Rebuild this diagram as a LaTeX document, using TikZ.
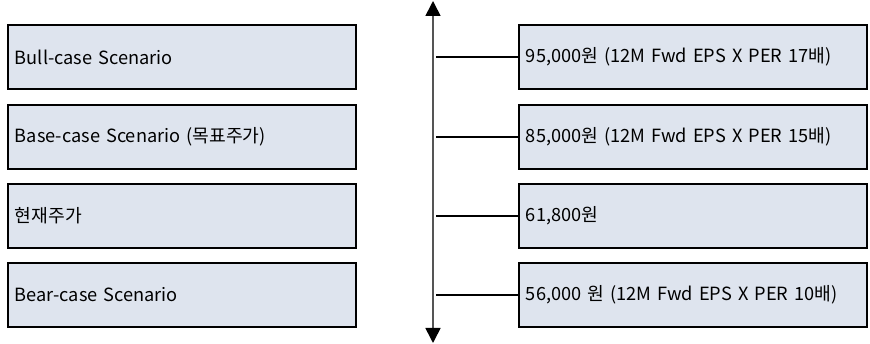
\documentclass[tikz,border=0pt]{standalone}
\usepackage{fontspec}
\setmainfont{Noto Sans CJK KR}
\usetikzlibrary{arrows.meta}
\definecolor{boxfill}{HTML}{DEE4EE}
\definecolor{axisgray}{HTML}{555555}
\tikzset{
  valbox/.style={draw=black, line width=1.8pt, fill=boxfill, minimum height=64pt,
    text width=334pt, inner xsep=7pt, align=left, anchor=north west, font=\fontsize{18.2}{20}\selectfont},
  tick/.style={draw=black, line width=1.8pt},
  axisline/.style={draw=axisgray, line width=1.6pt, {Triangle[width=15pt,length=15pt,color=black]}-{Triangle[width=15pt,length=15pt,color=black]}}
}
\begin{document}
\begin{tikzpicture}[x=1pt,y=-1pt]
\useasboundingbox (0,0) rectangle (870,344);
\node[valbox] (l1) at (7,24) {Bull-case Scenario};
\node[valbox] (l2) at (7,104) {Base-case Scenario (목표주가)};
\node[valbox] (l3) at (7,183) {현재주가};
\node[valbox] (l4) at (7,262) {Bear-case Scenario};
\node[valbox] (r1) at (518,24) {95,000원 (12M Fwd EPS X PER 17배)};
\node[valbox] (r2) at (518,104) {85,000원 (12M Fwd EPS X PER 15배)};
\node[valbox] (r3) at (518,183) {61,800원};
\node[valbox] (r4) at (518,262) {56,000 원 (12M Fwd EPS X PER 10배)};
\coordinate (atop) at (433,1);
\coordinate (abot) at (433,343);
\draw[axisline] (atop) -- (abot);
\draw[tick] (r1.west) -- ([xshift=3pt]r1.west -| atop);
\draw[tick] (r2.west) -- ([xshift=3pt]r2.west -| atop);
\draw[tick] (r3.west) -- ([xshift=3pt]r3.west -| atop);
\draw[tick] (r4.west) -- ([xshift=3pt]r4.west -| atop);
\end{tikzpicture}
\end{document}
